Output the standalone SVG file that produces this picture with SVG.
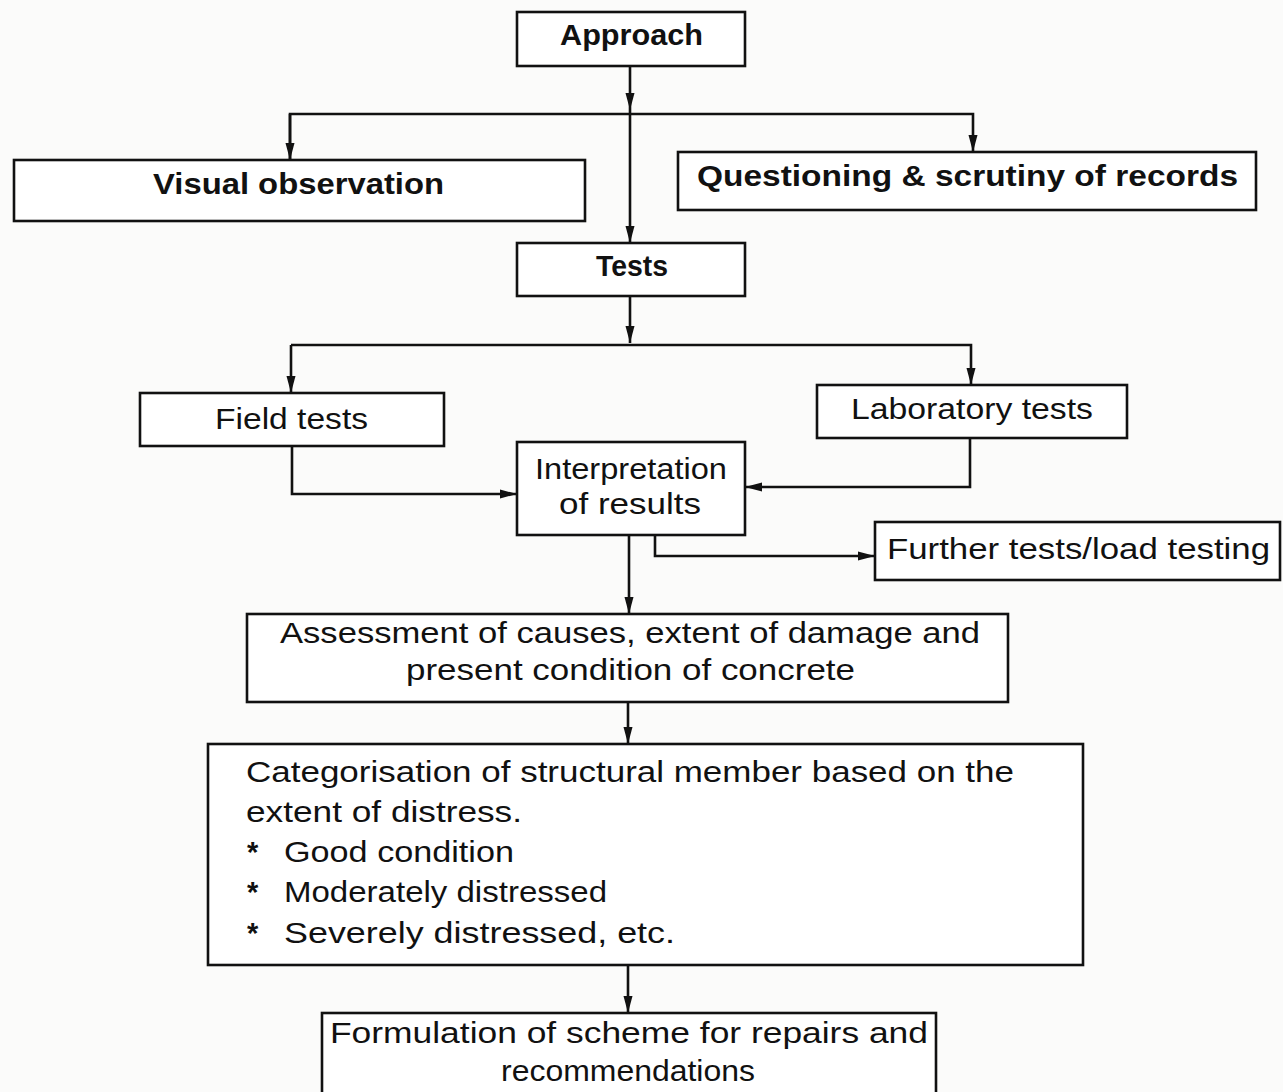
<svg xmlns="http://www.w3.org/2000/svg" width="1283" height="1092" viewBox="0 0 1283 1092">
<defs>
<marker id="ah" markerUnits="userSpaceOnUse" markerWidth="18" markerHeight="10" refX="17" refY="5" orient="auto">
<path d="M0,0.5 L17,5 L0,9.5 z" fill="#111"/>
</marker>
<style>
.box{fill:#fff;stroke:#111;stroke-width:2.6}
.ln{fill:none;stroke:#111;stroke-width:2.6}
.t{font-family:"Liberation Sans","DejaVu Sans",sans-serif;font-size:30px;fill:#111}
.b{font-weight:bold;font-size:29px}
.c{text-anchor:middle}
</style>
</defs>
<rect width="1283" height="1092" fill="#fbfbfa"/>
<g id="connectors">
<path class="ln" d="M630,66 V110" marker-end="url(#ah)"/>
<path class="ln" d="M630,110 V243" marker-end="url(#ah)"/>
<path class="ln" d="M290,160 V114 H973 V152" marker-end="url(#ah)"/>
<path class="ln" d="M290,114 V160" marker-end="url(#ah)"/>
<path class="ln" d="M630,296 V343" marker-end="url(#ah)"/>
<path class="ln" d="M291,345 H971 V385" marker-end="url(#ah)"/>
<path class="ln" d="M291,345 V393" marker-end="url(#ah)"/>
<path class="ln" d="M292,446 V494 H517" marker-end="url(#ah)"/>
<path class="ln" d="M970,438 V487 H745" marker-end="url(#ah)"/>
<path class="ln" d="M629,535 V614" marker-end="url(#ah)"/>
<path class="ln" d="M655,535 V556 H875" marker-end="url(#ah)"/>
<path class="ln" d="M628,702 V744" marker-end="url(#ah)"/>
<path class="ln" d="M628,965 V1013" marker-end="url(#ah)"/>
</g>
<g id="approach">
<rect class="box" x="517" y="12" width="228" height="54"/>
<text class="t b" x="560" y="45" textLength="143" lengthAdjust="spacingAndGlyphs">Approach</text>
</g>
<g id="visual">
<rect class="box" x="14" y="160" width="571" height="61"/>
<text class="t b" x="153" y="194" textLength="291" lengthAdjust="spacingAndGlyphs">Visual observation</text>
</g>
<g id="questioning">
<rect class="box" x="678" y="152" width="578" height="58"/>
<text class="t b" x="697" y="186" textLength="541" lengthAdjust="spacingAndGlyphs">Questioning &amp; scrutiny of records</text>
</g>
<g id="tests">
<rect class="box" x="517" y="243" width="228" height="53"/>
<text class="t b" x="596" y="276" textLength="72" lengthAdjust="spacingAndGlyphs">Tests</text>
</g>
<g id="field">
<rect class="box" x="140" y="393" width="304" height="53"/>
<text class="t" x="215" y="429" textLength="153" lengthAdjust="spacingAndGlyphs">Field tests</text>
</g>
<g id="laboratory">
<rect class="box" x="817" y="385" width="310" height="53"/>
<text class="t" x="851" y="419" textLength="242" lengthAdjust="spacingAndGlyphs">Laboratory tests</text>
</g>
<g id="interpretation">
<rect class="box" x="517" y="442" width="228" height="93"/>
<text class="t" x="535" y="479" textLength="192" lengthAdjust="spacingAndGlyphs">Interpretation</text>
<text class="t" x="559" y="514" textLength="142" lengthAdjust="spacingAndGlyphs">of results</text>
</g>
<g id="further">
<rect class="box" x="875" y="522" width="405" height="58"/>
<text class="t" x="887" y="559" textLength="383" lengthAdjust="spacingAndGlyphs">Further tests/load testing</text>
</g>
<g id="assessment">
<rect class="box" x="247" y="614" width="761" height="88"/>
<text class="t" x="280" y="643" textLength="700" lengthAdjust="spacingAndGlyphs">Assessment of causes, extent of damage and</text>
<text class="t" x="406" y="680" textLength="449" lengthAdjust="spacingAndGlyphs">present condition of concrete</text>
</g>
<g id="categorisation">
<rect class="box" x="208" y="744" width="875" height="221"/>
<text class="t" x="246" y="782" textLength="768" lengthAdjust="spacingAndGlyphs">Categorisation of structural member based on the</text>
<text class="t" x="246" y="822" textLength="276" lengthAdjust="spacingAndGlyphs">extent of distress.</text>
<text class="t b" x="247" y="862">*</text>
<text class="t" x="284" y="862" textLength="230" lengthAdjust="spacingAndGlyphs">Good condition</text>
<text class="t b" x="247" y="902">*</text>
<text class="t" x="284" y="902" textLength="323" lengthAdjust="spacingAndGlyphs">Moderately distressed</text>
<text class="t b" x="247" y="943">*</text>
<text class="t" x="284" y="943" textLength="391" lengthAdjust="spacingAndGlyphs">Severely distressed, etc.</text>
</g>
<g id="formulation">
<rect class="box" x="322" y="1013" width="614" height="85"/>
<text class="t" x="330" y="1043" textLength="598" lengthAdjust="spacingAndGlyphs">Formulation of scheme for repairs and</text>
<text class="t" x="501" y="1081" textLength="254" lengthAdjust="spacingAndGlyphs">recommendations</text>
</g>
</svg>
